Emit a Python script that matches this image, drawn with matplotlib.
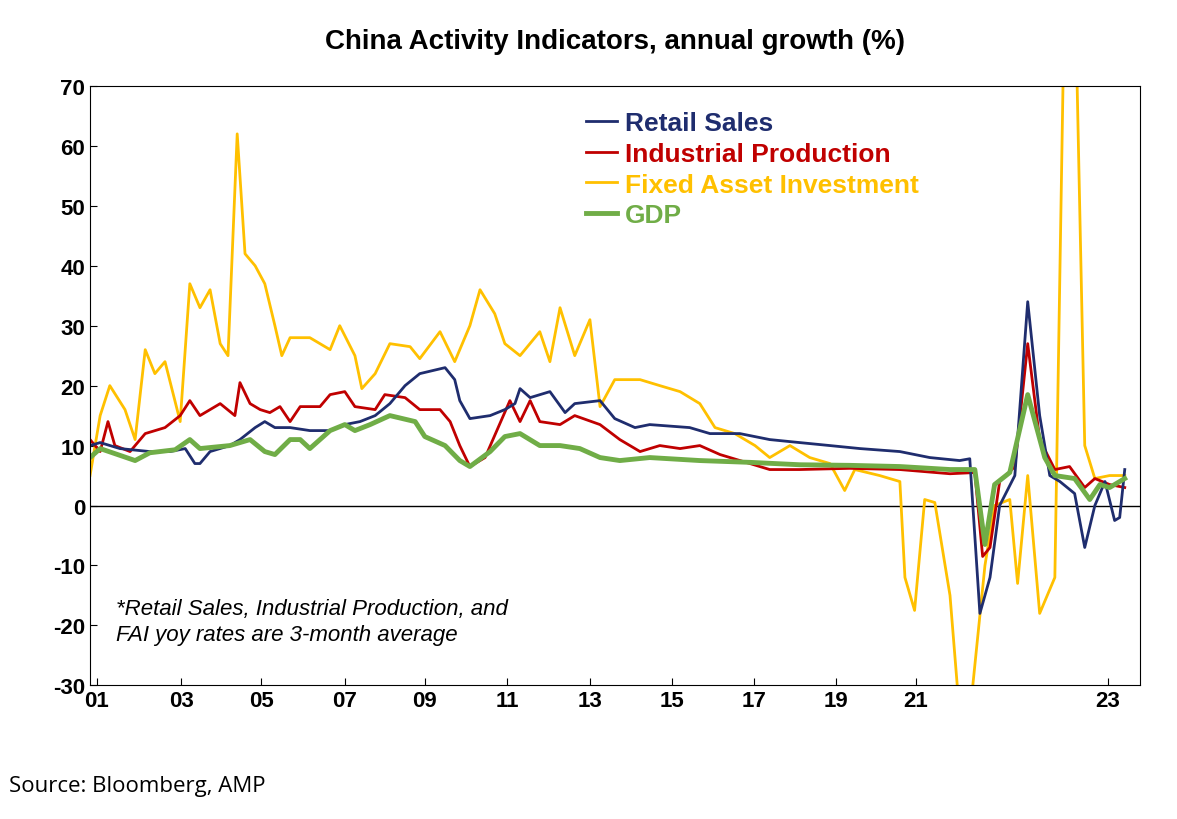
import matplotlib.pyplot as plt

plt.rcParams['font.family'] = ['Liberation Sans', 'DejaVu Sans']
plt.rcParams['axes.unicode_minus'] = False

# decimal-year positions on the chart's (stretched) time axis, values in %
gdp_x = [2001.00, 2001.22, 2001.98, 2002.30, 2002.85, 2003.17, 2003.39, 2004.04, 2004.48, 2004.80,
         2005.02, 2005.35, 2005.57, 2005.78, 2006.22, 2006.54, 2006.76, 2007.09, 2007.52, 2008.07,
         2008.28, 2008.72, 2009.04, 2009.26, 2009.70, 2010.02, 2010.35, 2010.78, 2011.22, 2011.65,
         2012.09, 2012.52, 2013.17, 2014.26, 2015.35, 2016.43, 2017.52, 2018.61, 2019.70, 2020.24,
         2020.46, 2020.67, 2021.00, 2021.39, 2021.76, 2021.98, 2022.41, 2022.74, 2022.96, 2023.17,
         2023.50]
gdp_y = [8, 9.5, 7.5, 8.8, 9.3, 11, 9.5, 10, 11, 9, 8.5, 11, 11, 9.5, 12.5, 13.5, 12.5, 13.5, 15, 14,
         11.5, 10, 7.5, 6.5, 9, 11.5, 12, 10, 10, 9.5, 8, 7.5, 8, 7.5, 7.2, 6.8, 6.7, 6.5, 6, 6,
         -6.5, 3.5, 5.5, 18.5, 8, 5, 4.5, 1, 3.5, 3, 4.5]

ret_x = [2001.00, 2001.22, 2001.65, 2002.30, 2002.74, 2003.07, 2003.28, 2003.39, 2003.61, 2004.04,
         2004.26, 2004.59, 2004.80, 2005.02, 2005.35, 2005.78, 2006.22, 2006.54, 2006.87, 2007.20,
         2007.52, 2007.85, 2008.17, 2008.72, 2008.93, 2009.04, 2009.26, 2009.70, 2010.02, 2010.24,
         2010.35, 2010.57, 2011.00, 2011.33, 2011.54, 2012.09, 2012.41, 2012.85, 2013.17, 2014.04,
         2014.48, 2015.13, 2015.78, 2016.43, 2017.09, 2017.74, 2018.61, 2019.26, 2019.91, 2020.13,
         2020.35, 2020.57, 2020.78, 2021.11, 2021.39, 2021.65, 2021.87, 2022.09, 2022.41, 2022.63,
         2022.85, 2023.07, 2023.28, 2023.39, 2023.50]
ret_y = [10, 10.5, 9.5, 9, 9, 9.5, 7, 7, 9, 10, 11, 13, 14, 13, 13, 12.5, 12.5, 13.5, 14, 15,
         17, 20, 22, 23, 21, 17.5, 14.5, 15, 16, 17, 19.5, 18, 19, 15.5, 17, 17.5, 14.5, 13, 13.5, 13,
         12, 12, 11, 10.5, 10, 9.5, 9, 8, 7.5, 7.8, -18, -12, 0, 5, 34, 15, 5, 4, 2, -7,
         0, 4, -2.5, -2, 6]

ind_x = [2001.00, 2001.22, 2001.39, 2001.54, 2001.87, 2002.20, 2002.63, 2002.96, 2003.17, 2003.39,
         2003.83, 2004.15, 2004.26, 2004.48, 2004.70, 2004.91, 2005.13, 2005.35, 2005.57, 2006.00,
         2006.22, 2006.54, 2006.76, 2007.20, 2007.41, 2007.85, 2008.17, 2008.61, 2008.83, 2009.04,
         2009.26, 2009.59, 2010.13, 2010.35, 2010.57, 2010.78, 2011.22, 2011.54, 2012.09, 2012.52,
         2012.96, 2013.39, 2013.83, 2014.26, 2014.70, 2015.35, 2015.78, 2016.43, 2017.52, 2018.61,
         2019.70, 2020.24, 2020.41, 2020.57, 2020.78, 2021.11, 2021.39, 2021.65, 2021.98, 2022.30,
         2022.63, 2022.85, 2023.17, 2023.50]
ind_y = [11, 9, 14, 10, 9, 12, 13, 15, 17.5, 15, 17, 15, 20.5, 17, 16, 15.5, 16.5, 14, 16.5, 16.5,
         18.5, 19, 16.5, 16, 18.5, 18, 16, 16, 14, 10, 6.5, 8, 17.5, 14, 17.5, 14, 13.5, 15, 13.5, 11,
         9, 10, 9.5, 10, 8.5, 7, 6, 6, 6.2, 6, 5.3, 5.5, -8.5, -7, 4, 6.5, 27, 11, 6, 6.5,
         3, 4.5, 3.5, 3]

fai_x = [2001.00, 2001.22, 2001.43, 2001.76, 2001.98, 2002.20, 2002.41, 2002.63, 2002.96, 2003.17,
         2003.39, 2003.61, 2003.83, 2004.00, 2004.20, 2004.37, 2004.59, 2004.80, 2005.02, 2005.17,
         2005.35, 2005.78, 2006.22, 2006.43, 2006.76, 2006.91, 2007.20, 2007.52, 2007.96, 2008.17,
         2008.61, 2008.93, 2009.26, 2009.48, 2009.80, 2010.02, 2010.35, 2010.78, 2011.00, 2011.22,
         2011.54, 2011.87, 2012.09, 2012.41, 2012.96, 2013.39, 2013.83, 2014.26, 2014.59, 2015.02,
         2015.46, 2015.78, 2016.22, 2016.65, 2017.09, 2017.41, 2017.63, 2018.17, 2018.61, 2018.72,
         2018.93, 2019.15, 2019.37, 2019.70, 2019.91, 2020.13, 2020.46, 2020.67, 2021.00, 2021.17,
         2021.39, 2021.65, 2021.98, 2022.20, 2022.41, 2022.63, 2022.85, 2023.17, 2023.50]
fai_y = [5, 15, 20, 16, 11, 26, 22, 24, 14, 37, 33, 36, 27, 25, 62, 42, 40, 37, 30, 25,
         28, 28, 26, 30, 25, 19.5, 22, 27, 26.5, 24.5, 29, 24, 30, 36, 32, 27, 25, 29, 24, 33,
         25, 31, 16.5, 21, 21, 20, 19, 17, 13, 12, 10, 8, 10, 8, 7, 2.5, 6, 5, 4, -12,
         -17.5, 1, 0.5, -15, -35, -35, -10, 0, 1, -13, 5, -18, -12, 90, 90, 10, 4.5, 5, 5]

tick_pos = [2001.15, 2002.98, 2004.72, 2006.54, 2008.28, 2010.07, 2011.87, 2013.65,
            2015.43, 2017.22, 2018.96, 2023.13]
tick_lab = ['01', '03', '05', '07', '09', '11', '13', '15', '17', '19', '21', '23']

fig = plt.figure(figsize=(11.77, 8.2), dpi=100)
ax = fig.add_axes([0.0765, 0.163, 0.892, 0.731])

ax.axhline(0, color='black', lw=1)
ax.plot(fai_x, fai_y, color='#ffc000', lw=2, label='Fixed Asset Investment')
ax.plot(ind_x, ind_y, color='#c00000', lw=2, label='Industrial Production')
ax.plot(ret_x, ret_y, color='#1f2d6e', lw=2, label='Retail Sales')
ax.plot(gdp_x, gdp_y, color='#70ad47', lw=3.5, label='GDP')

ax.set_xlim(2001.0, 2023.83)
ax.set_ylim(-30, 70)
ax.set_yticks(range(-30, 71, 10))
ax.set_xticks(tick_pos)
ax.set_xticklabels(tick_lab)
ax.tick_params(axis='both', labelsize=16, direction='in', length=5)
for t in ax.get_xticklabels() + ax.get_yticklabels():
    t.set_fontweight('bold')

h, l = ax.get_legend_handles_labels()
order = [2, 1, 0, 3]
leg = ax.legend([h[i] for i in order], [l[i] for i in order], loc='upper left',
                bbox_to_anchor=(0.462, 0.975), frameon=False, fontsize=19,
                handlelength=1.2, handletextpad=0.3, labelspacing=0.25, borderaxespad=0)
for txt, line in zip(leg.get_texts(), leg.get_lines()):
    txt.set_color(line.get_color())
    txt.set_fontweight('bold')

ax.text(0.025, 0.068, '*Retail Sales, Industrial Production, and\nFAI yoy rates are 3-month average',
        transform=ax.transAxes, fontsize=16, style='italic', va='bottom', linespacing=1.3)

fig.text(0.5 * (90 + 1140) / 1177, 1 - 42 / 820, 'China Activity Indicators, annual growth (%)',
         ha='center', va='center', fontsize=20, fontweight='bold')
fig.text(0.008, 1 - 787 / 820, 'Source: Bloomberg, AMP', fontsize=16, va='center',
         family='Open Sans')

plt.savefig('out.png', dpi=100)
